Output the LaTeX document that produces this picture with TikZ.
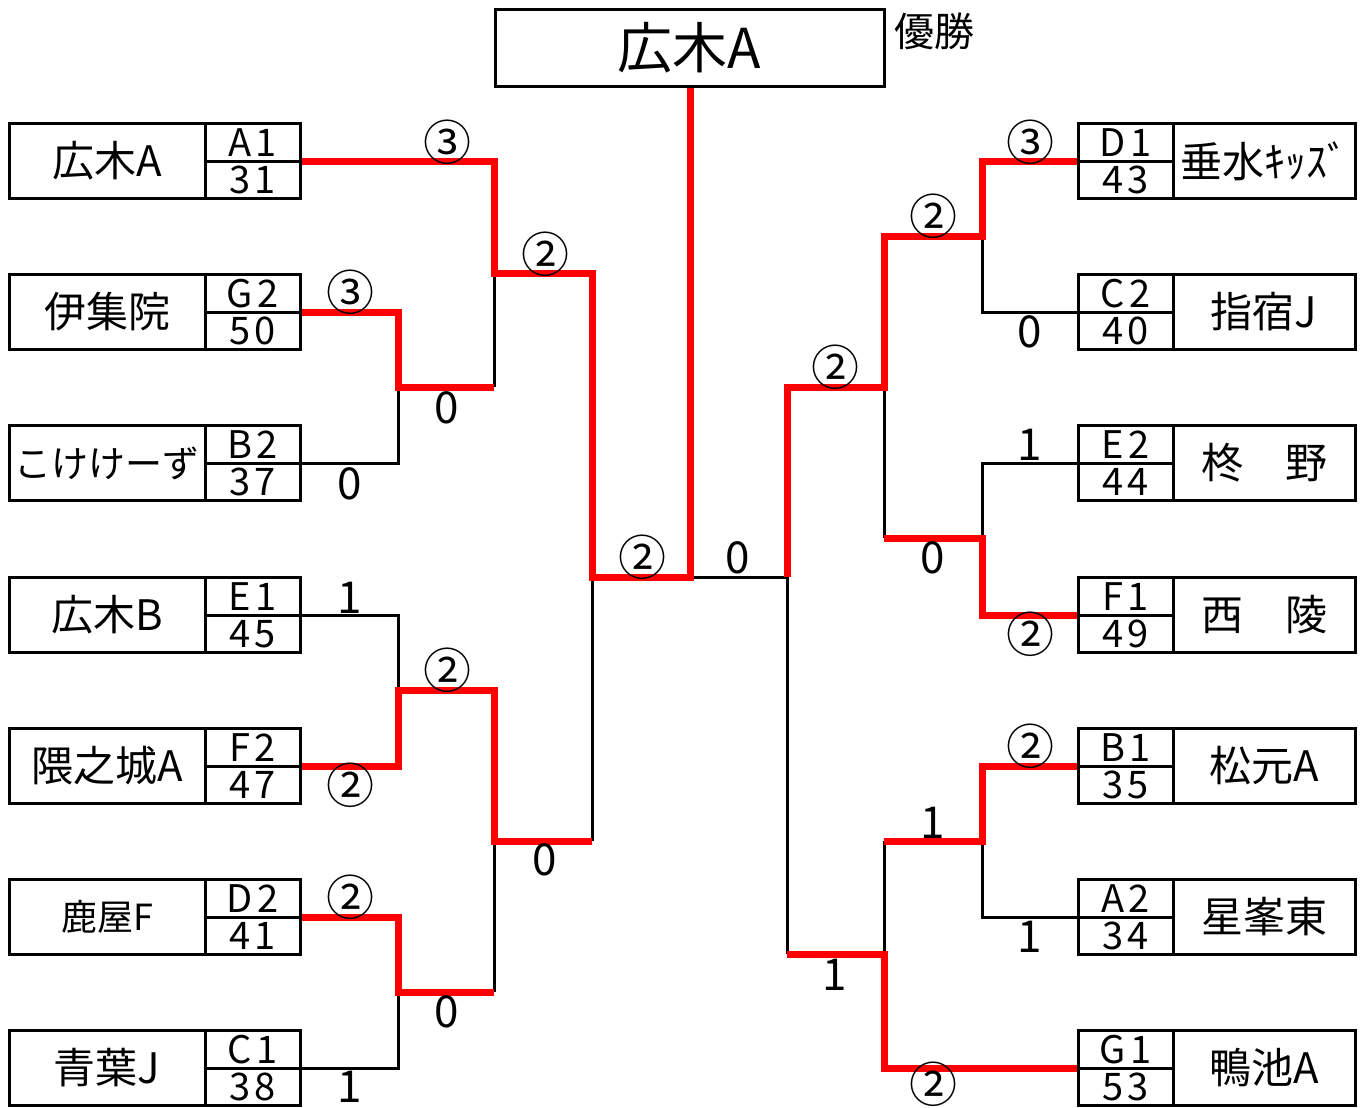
\documentclass[tikz,border=0pt]{standalone}
\usepackage{fontspec}
\setmainfont{Noto Sans CJK JP}
\tikzset{
  boxline/.style={draw=black, line width=3pt},
  cell/.style={draw=black, line width=3pt, inner sep=0pt, minimum height=75pt},
  win/.style={draw=red, line width=7pt, line join=miter},
  lose/.style={draw=black, line width=3pt},
  nm/.style={font=\fontsize{42}{42}\selectfont, inner sep=0pt},
  cd/.style={font=\fontsize{38}{38}\selectfont\addfontfeature{LetterSpace=12}, inner sep=0pt},
  sc/.style={font=\fontsize{48}{48}\selectfont, inner sep=0pt},
  dg/.style={font=\fontsize{44}{44}\selectfont, inner sep=0pt},
}
\newcommand\teamL[6][]{%
  \node[cell, nm, minimum width=196pt, #1] (n#2) at (107,#3) {#4};
  \node[cell, minimum width=95pt] (k#2) at (252.5,#3) {};
  \draw[boxline] (k#2.west) -- (k#2.east);
  \node[cd] (c#2) at (252.5,{#3-18.5}) {#2};
  \node[cd] (s#2) at (252.5,{#3+19}) {#6};
}
\newcommand\teamR[6][]{%
  \node[cell, nm, minimum width=182pt, #1] (n#2) at (1264,#3) {#4};
  \node[cell, minimum width=95pt] (k#2) at (1125.5,#3) {};
  \draw[boxline] (k#2.west) -- (k#2.east);
  \node[cd] (c#2) at (1125.5,{#3-18.5}) {#2};
  \node[cd] (s#2) at (1125.5,{#3+19}) {#6};
}
\begin{document}
\begin{tikzpicture}[x=1pt,y=-1pt]
\useasboundingbox (0,0) rectangle (1368,1108);
\fill[white] (0,0) rectangle (1368,1108);

% champion
\node[cell, minimum width=389pt, minimum height=76pt, font=\fontsize{55}{55}\selectfont] (champ) at (689.5,48) {広木A};
\node[font=\fontsize{40}{40}\selectfont, inner sep=0pt] (yusho) at (934,31) {優勝};

% left teams
\teamL{A1}{161}{広木A}{}{31}
\teamL{G2}{312}{伊集院}{}{50}
\teamL[font=\fontsize{37}{37}\selectfont]{B2}{463}{こけけーず}{}{37}
\teamL{E1}{615}{広木B}{}{45}
\teamL{F2}{766}{隈之城A}{}{47}
\teamL[font=\fontsize{36}{36}\selectfont]{D2}{917}{鹿屋F}{}{41}
\teamL{C1}{1068}{青葉J}{}{38}

% right teams
\teamR{D1}{161}{垂水ｷｯｽﾞ}{}{43}
\teamR{C2}{312}{指宿J}{}{40}
\teamR{E2}{463}{柊　野}{}{44}
\teamR{F1}{615}{西　陵}{}{49}
\teamR{B1}{766}{松元A}{}{35}
\teamR{A2}{917}{星峯東}{}{34}
\teamR{G1}{1068}{鴨池A}{}{53}

% junction coordinates
\coordinate (m1) at (398,387); \coordinate (m1o) at (494,387);
\coordinate (m2) at (494,273); \coordinate (m2o) at (592,273);
\coordinate (m3) at (398,690); \coordinate (m3o) at (494,690);
\coordinate (m4) at (398,992); \coordinate (m4o) at (494,992);
\coordinate (m5) at (494,841); \coordinate (m5o) at (592,841);
\coordinate (m6) at (592,577); \coordinate (m6o) at (690,577);
\coordinate (r1) at (982,236); \coordinate (r1o) at (884,236);
\coordinate (r2) at (982,538); \coordinate (r2o) at (884,538);
\coordinate (r3) at (884,387); \coordinate (r3o) at (787,387);
\coordinate (r4) at (982,841); \coordinate (r4o) at (884,841);
\coordinate (r5) at (884,954); \coordinate (r5o) at (787,954);
\coordinate (r6) at (787,577);

% losing lines
\draw[lose] (kB2.east) -| (m1);
\draw[lose] (m1o) -- (m2);
\draw[lose] (kE1.east) -| (m3);
\draw[lose] (kC1.east) -| (m4);
\draw[lose] (m4o) -- (m5);
\draw[lose] (m5o) -- (m6);
\draw[lose] (m6o) -- (r6);
\draw[lose] (kC2.west) -| (r1);
\draw[lose] (kE2.west) -| (r2);
\draw[lose] (r2o) -- (r3);
\draw[lose] (kA2.west) -| (r4);
\draw[lose] (r4o) -- (r5);
\draw[lose] (r5o) -- (r6);

% winning lines
\draw[win] (kG2.east) -| (m1) -- (m1o);
\draw[win] (kA1.east) -| (m2) -- (m2o) -- (m6) -- (m6o) -- (m6o |- champ.south);
\draw[win] (kF2.east) -| (m3) -- (m3o) -- (m5) -- (m5o);
\draw[win] (kD2.east) -| (m4) -- (m4o);
\draw[win] (kD1.west) -| (r1) -- (r1o) -- (r3) -- (r3o) -- (r6);
\draw[win] (kF1.west) -| (r2) -- (r2o);
\draw[win] (kB1.west) -| (r4) -- (r4o);
\draw[win] (kG1.west) -| (r5) -- (r5o);

% scores left
\node[sc] (l1) at (447,142) {③};
\node[sc] (l2) at (350,292) {③};
\node[dg] (l3) at (350,484) {0};
\node[dg] (l4) at (447,408) {0};
\node[sc] (l5) at (545,254) {②};
\node[dg] (l6) at (350,598) {1};
\node[sc] (l7) at (350,785) {②};
\node[sc] (l8) at (447,670) {②};
\node[sc] (l9) at (350,897) {②};
\node[dg] (l10) at (350,1087) {1};
\node[dg] (l11) at (447,1012) {0};
\node[dg] (l12) at (545,860) {0};
\node[sc] (l13) at (642,557) {②};
\node[dg] (l14) at (738,558) {0};
% scores right
\node[sc] (q1) at (1030,142) {③};
\node[dg] (q2) at (1030,332) {0};
\node[sc] (q3) at (933,216) {②};
\node[dg] (q4) at (1030,445) {1};
\node[sc] (q5) at (1030,634) {②};
\node[dg] (q6) at (933,558) {0};
\node[sc] (q7) at (835,367) {②};
\node[sc] (q8) at (1030,746) {②};
\node[dg] (q9) at (933,823) {1};
\node[dg] (q10) at (1030,937) {1};
\node[sc] (q11) at (933,1084) {②};
\node[dg] (q12) at (835,975) {1};
\end{tikzpicture}
\end{document}
